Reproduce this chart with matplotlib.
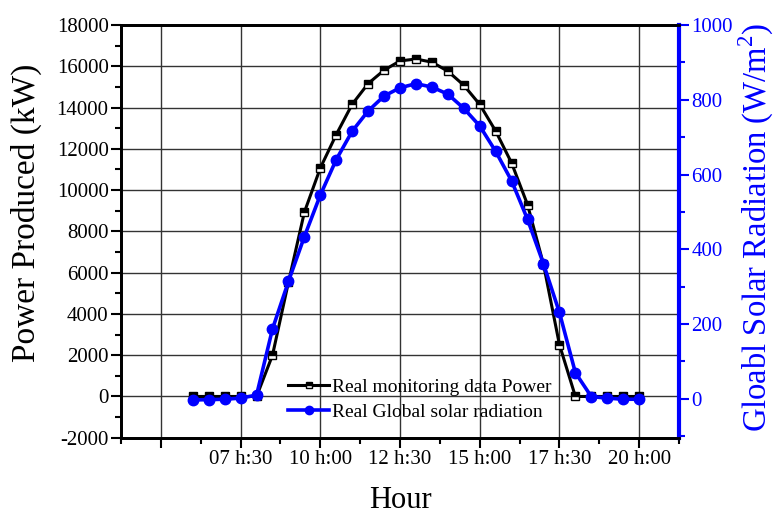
import numpy as np
import matplotlib.pyplot as plt
from matplotlib.ticker import FixedLocator, MultipleLocator

plt.rcParams['font.family'] = ['Liberation Serif', 'DejaVu Serif']
plt.rcParams['mathtext.fontset'] = 'custom'
plt.rcParams['mathtext.rm'] = 'Liberation Serif'
plt.rcParams['axes.unicode_minus'] = False

# hours, every 30 min from 06:00 to 20:00
hours = [6.0, 6.5, 7.0, 7.5, 8.0, 8.5, 9.0, 9.5, 10.0, 10.5, 11.0, 11.5, 12.0, 12.5,
         13.0, 13.5, 14.0, 14.5, 15.0, 15.5, 16.0, 16.5, 17.0, 17.5, 18.0, 18.5,
         19.0, 19.5, 20.0]
power = [0, 0, 0, 0, 0, 2000, 5530, 8930, 11070, 12690, 14160, 15160, 15810, 16260,
         16350, 16200, 15760, 15080, 14150, 12860, 11310, 9290, 6400, 2510, 0, 0,
         0, 0, 0]
radiation = [-3, -2, -1, 2, 10, 187, 314, 434, 545, 640, 716, 770, 810, 832,
             843, 834, 815, 777, 730, 662, 583, 480, 361, 231, 70, 6,
             2, -1, -1]

tick_pos = [5.0, 7.5, 10.0, 12.5, 15.0, 17.5, 20.0]
tick_lab = ['', '07 h:30', '10 h:00', '12 h:30', '15 h:00', '17 h:30', '20 h:00']

fig = plt.figure(figsize=(7.76, 5.15), dpi=100)
ax = fig.add_axes([0.156, 0.150, 0.719, 0.8015])
ax2 = ax.twinx()

l1, = ax.plot(hours, power, color='black', lw=2.2, marker='s', ms=6,
              fillstyle='top', markerfacecolor='black', markerfacecoloralt='white',
              markeredgecolor='black', markeredgewidth=1, zorder=3,
              label='Real monitoring data Power')
l2, = ax2.plot(hours, radiation, color='blue', lw=2.6, marker='o', ms=7.5,
               markeredgecolor='blue', zorder=4,
               label='Real Global solar radiation')

ax.set_xlim(3.75, 21.25)
ax.set_ylim(-2000, 18000)
ax2.set_ylim(-104, 1000)

ax.xaxis.set_major_locator(FixedLocator(tick_pos))
ax.set_xticklabels(tick_lab)
ax.xaxis.set_minor_locator(MultipleLocator(1.25))
ax.yaxis.set_major_locator(MultipleLocator(2000))
ax.yaxis.set_minor_locator(MultipleLocator(1000))
ax2.yaxis.set_major_locator(MultipleLocator(200))
ax2.yaxis.set_minor_locator(MultipleLocator(100))

ax.grid(True, which='major', color='#333333', lw=1)
ax.set_axisbelow(True)

ax.tick_params(axis='both', which='major', direction='out', length=7, width=1.5,
               labelsize=15, pad=2)
ax.tick_params(axis='both', which='minor', direction='out', length=4, width=1.5)
ax2.tick_params(axis='y', which='major', direction='out', length=7, width=1.5,
                colors='blue', labelsize=15, pad=2)
ax2.tick_params(axis='y', which='minor', direction='out', length=4, width=1.5,
                colors='blue')

for s in ['left', 'bottom', 'top']:
    ax.spines[s].set_linewidth(2)
    ax2.spines[s].set_linewidth(2)
ax2.spines['right'].set_color('blue')
ax2.spines['right'].set_linewidth(3)
ax.spines['right'].set_visible(False)

ax.set_xlabel('Hour', fontsize=22, labelpad=12)
ax.set_ylabel('Power Produced (kW)', fontsize=24)
ax.yaxis.set_label_coords(-0.142, 0.545)
ax2.set_ylabel('Gloabl Solar Radiation (W/m$^{2}$)', fontsize=23.5, color='blue')
ax2.yaxis.set_label_coords(1.104, 0.51)

ax2.legend([l1, l2], [l1.get_label(), l2.get_label()], loc='lower left',
           bbox_to_anchor=(0.282, 0.018), frameon=False, fontsize=14,
           handlelength=2.1, handletextpad=0.15, labelspacing=0.35, borderpad=0,
           markerscale=0.8)

fig.savefig('out.png', dpi=100)
